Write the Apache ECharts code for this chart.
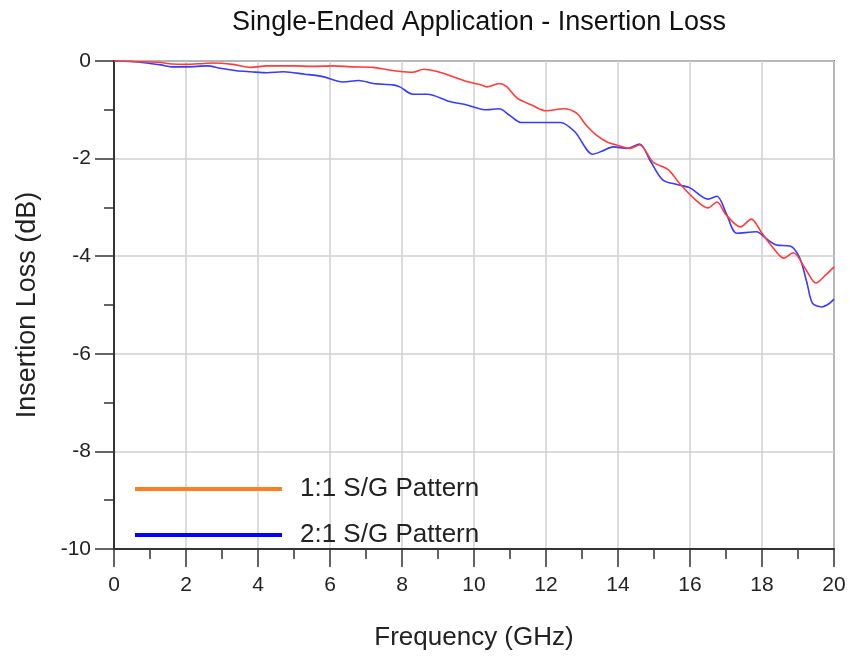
<!DOCTYPE html>
<html>
<head>
<meta charset="utf-8">
<script src="https://cdn.jsdelivr.net/npm/echarts@6/dist/echarts.min.js"></script>
<style>
  html, body { margin: 0; padding: 0; background: #fff; }
  #chart { width: 850px; height: 656px; }
</style>
</head>
<body>
<div id="chart"></div>
<script>
// 1:1 S/G pattern (red)
const freq11 = [0, 0.5, 1.0, 1.3, 1.6, 2.0, 2.5, 2.75, 3.3, 3.8, 4.25, 5.0, 5.5, 6.1, 6.6, 7.2, 7.6, 7.9, 8.3, 8.6, 9.0, 9.3, 9.8, 10.2, 10.35, 10.7, 10.9, 11.2, 11.6, 12.0, 12.5, 12.85, 13.1, 13.4, 13.7, 14.05, 14.33, 14.6, 14.97, 15.4, 15.7, 16.1, 16.5, 16.75, 17.0, 17.4, 17.7, 18.0, 18.3, 18.6, 18.87, 19.2, 19.5, 19.75, 20];
const loss11 = [0, -0.01, -0.02, -0.03, -0.06, -0.07, -0.05, -0.04, -0.07, -0.13, -0.1, -0.1, -0.11, -0.1, -0.12, -0.13, -0.18, -0.21, -0.23, -0.17, -0.22, -0.29, -0.42, -0.49, -0.53, -0.46, -0.52, -0.76, -0.9, -1.02, -0.98, -1.07, -1.3, -1.52, -1.66, -1.74, -1.79, -1.72, -2.07, -2.23, -2.5, -2.81, -3.01, -2.89, -3.15, -3.4, -3.24, -3.53, -3.82, -4.04, -3.93, -4.25, -4.55, -4.4, -4.22];

// 2:1 S/G pattern (blue)
const freq21 = [0, 0.5, 1.0, 1.3, 1.6, 2.0, 2.6, 2.95, 3.4, 3.8, 4.25, 4.7, 5.3, 5.8, 6.36, 6.8, 7.2, 7.75, 7.94, 8.3, 8.7, 9.33, 9.8, 10.35, 10.7, 11.0, 11.3, 12.0, 12.4, 12.8, 13.3, 13.55, 13.86, 14.25, 14.6, 14.9, 15.25, 15.7, 16.0, 16.5, 16.75, 17.0, 17.3, 17.85, 18.1, 18.4, 18.78, 19.05, 19.25, 19.4, 19.65, 19.85, 20];
const loss21 = [0, -0.01, -0.05, -0.08, -0.12, -0.12, -0.1, -0.15, -0.2, -0.22, -0.24, -0.22, -0.27, -0.32, -0.43, -0.4, -0.46, -0.49, -0.53, -0.68, -0.68, -0.83, -0.9, -1.0, -0.98, -1.12, -1.26, -1.26, -1.26, -1.45, -1.91, -1.85, -1.76, -1.79, -1.7, -2.05, -2.44, -2.54, -2.6, -2.83, -2.77, -3.11, -3.53, -3.5, -3.63, -3.77, -3.79, -4.04, -4.55, -4.96, -5.04, -4.98, -4.88];

const seriesNames = ['1:1 S/G Pattern', '2:1 S/G Pattern'];

const zip = (xs, ys) => xs.map((x, i) => [x, ys[i]]);

const chart = echarts.init(document.getElementById('chart'));
const font = 'Liberation Sans, Arial, sans-serif';

const option = {
  backgroundColor: '#fff',
  animation: false,
  textStyle: { fontFamily: font },
  title: {
    text: 'Single-Ended Application - Insertion Loss',
    left: 474,
    top: 4,
    textAlign: 'center',
    textStyle: { fontSize: 27, fontWeight: 'normal', color: '#111', fontFamily: font }
  },
  grid: {
    left: 114, right: 16, top: 61, bottom: 107,
    show: true, borderColor: '#6e6e6e', borderWidth: 2
  },
  legend: {
    orient: 'vertical',
    left: 130,
    top: 471,
    itemWidth: 147,
    itemHeight: 4,
    itemGap: 20,
    icon: 'rect',
    textStyle: { fontSize: 26, color: '#222', fontFamily: font, padding: [0, 0, 0, 13] },
    data: [
      { name: seriesNames[0], itemStyle: { color: '#ff7f27' } },
      { name: seriesNames[1], itemStyle: { color: '#0000ff' } }
    ]
  },
  xAxis: {
    type: 'value',
    min: 0, max: 20, interval: 2,
    name: 'Frequency (GHz)',
    nameLocation: 'middle',
    nameGap: 76,
    nameTextStyle: { fontSize: 26, color: '#222', fontFamily: font },
    axisLine: { show: true, onZero: false, lineStyle: { color: '#333', width: 2 } },
    axisTick: { show: true, length: 18, lineStyle: { color: '#333', width: 1.5 } },
    minorTick: { show: true, splitNumber: 2, length: 10, lineStyle: { color: '#333', width: 1.5 } },
    axisLabel: { margin: 26, fontSize: 21, color: '#222', fontFamily: font },
    splitLine: { show: true, lineStyle: { color: '#cfcfcf', width: 1.5 } }
  },
  yAxis: {
    type: 'value',
    min: -10, max: 0, interval: 2,
    name: 'Insertion Loss (dB)',
    nameLocation: 'middle',
    nameGap: 73,
    nameRotate: 90,
    nameTextStyle: { fontSize: 27, color: '#222', fontFamily: font },
    axisLine: { show: true, onZero: false, lineStyle: { color: '#333', width: 2 } },
    axisTick: { show: true, length: 19, lineStyle: { color: '#333', width: 1.5 } },
    minorTick: { show: true, splitNumber: 2, length: 10, lineStyle: { color: '#333', width: 1.5 } },
    axisLabel: { margin: 23, fontSize: 21, color: '#222', fontFamily: font },
    splitLine: { show: true, lineStyle: { color: '#cfcfcf', width: 1.5 } }
  },
  series: [
    {
      name: seriesNames[0],
      type: 'line',
      data: zip(freq11, loss11),
      showSymbol: false,
      smooth: 0.3,
      lineStyle: { color: '#ff3b3b', width: 1.6 },
      itemStyle: { color: '#ff7f27' },
      z: 3
    },
    {
      name: seriesNames[1],
      type: 'line',
      data: zip(freq21, loss21),
      showSymbol: false,
      smooth: 0.3,
      lineStyle: { color: '#3a3aff', width: 1.6 },
      itemStyle: { color: '#0000ff' },
      z: 2
    }
  ]
};

chart.setOption(option);
</script>
</body>
</html>
